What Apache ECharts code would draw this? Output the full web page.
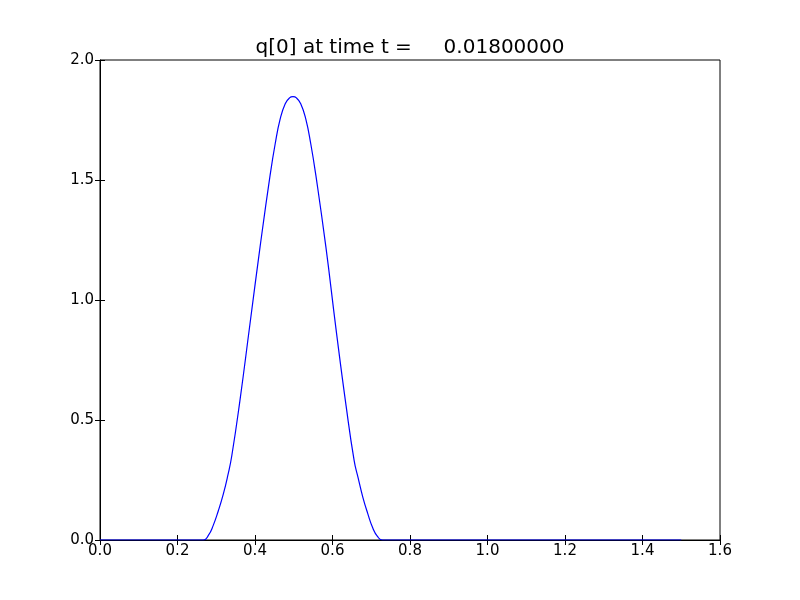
<!DOCTYPE html>
<html>
<head>
<meta charset="utf-8">
<script src="https://cdn.jsdelivr.net/npm/echarts@6/dist/echarts.min.js"></script>
<style>
  html, body { margin: 0; padding: 0; background: #fff; }
  #main { width: 800px; height: 600px; }
</style>
</head>
<body>
<div id="main"></div>
<script>
// values
const titleText = 'q[0] at time t =     0.01800000'
const xValues = [0, 0.267, 0.28, 0.292, 0.305, 0.318, 0.33, 0.34, 0.361, 0.387, 0.413, 0.439, 0.452, 0.465, 0.478, 0.489, 0.498, 0.507, 0.518, 0.531, 0.544, 0.557, 0.583, 0.609, 0.635, 0.656, 0.666, 0.678, 0.691, 0.704, 0.716, 0.729, 1.5]
const qValues = [0, 0, 0.02, 0.06, 0.12, 0.19, 0.27, 0.35, 0.58, 0.9, 1.22, 1.52, 1.65, 1.755, 1.818, 1.842, 1.847, 1.842, 1.818, 1.755, 1.65, 1.52, 1.22, 0.88, 0.56, 0.33, 0.26, 0.18, 0.11, 0.05, 0.015, 0, 0]
const xTicks = [0, 0.2, 0.4, 0.6, 0.8, 1.0, 1.2, 1.4, 1.6]
const yTicks = [0, 0.5, 1.0, 1.5, 2.0]

const points = xValues.map((x, i) => [x, qValues[i]])
const font = 'DejaVu Sans'

const chart = echarts.init(document.getElementById('main'), null, { renderer: 'canvas' })

const tickStyle = { show: true, inside: true, length: 5, lineStyle: { color: '#000', width: 1 } }

const option = {
  animation: false,
  backgroundColor: '#fff',
  title: {
    text: titleText,
    left: 410,
    textAlign: 'center',
    top: 38,
    padding: 0,
    textStyle: { fontFamily: font, fontSize: 20, fontWeight: 'normal', color: '#000' }
  },
  grid: {
    left: 100, right: 80, top: 60, bottom: 60,
    show: true, borderColor: '#000', borderWidth: 1, backgroundColor: '#fff'
  },
  xAxis: [
    {
      type: 'value', position: 'bottom',
      min: xTicks[0], max: xTicks[xTicks.length - 1], interval: 0.2,
      axisLine: { show: true, onZero: false, lineStyle: { color: '#000' } },
      axisTick: tickStyle,
      splitLine: { show: false },
      axisLabel: {
        margin: 4, fontFamily: font, fontSize: 15, color: '#000',
        formatter: v => v.toFixed(1), showMinLabel: true, showMaxLabel: true
      }
    },
    {
      type: 'value', position: 'top',
      min: xTicks[0], max: xTicks[xTicks.length - 1], interval: 0.2,
      axisLine: { show: false }, axisTick: tickStyle,
      splitLine: { show: false }, axisLabel: { show: false }
    }
  ],
  yAxis: [
    {
      type: 'value', position: 'left',
      min: yTicks[0], max: yTicks[yTicks.length - 1], interval: 0.5,
      axisLine: { show: true, onZero: false, lineStyle: { color: '#000' } },
      axisTick: tickStyle,
      splitLine: { show: false },
      axisLabel: {
        margin: 6, fontFamily: font, fontSize: 15, color: '#000',
        formatter: v => v.toFixed(1), showMinLabel: true, showMaxLabel: true
      }
    },
    {
      type: 'value', position: 'right',
      min: yTicks[0], max: yTicks[yTicks.length - 1], interval: 0.5,
      axisLine: { show: false }, axisTick: tickStyle,
      splitLine: { show: false }, axisLabel: { show: false }
    }
  ],
  series: [
    {
      name: 'q[0]',
      type: 'line',
      data: points,
      xAxisIndex: 0,
      yAxisIndex: 0,
      showSymbol: false,
      smooth: 0.5,
      lineStyle: { color: '#0000ff', width: 1.2 },
      z: 3
    }
  ]
}

chart.setOption(option)
</script>
</body>
</html>
